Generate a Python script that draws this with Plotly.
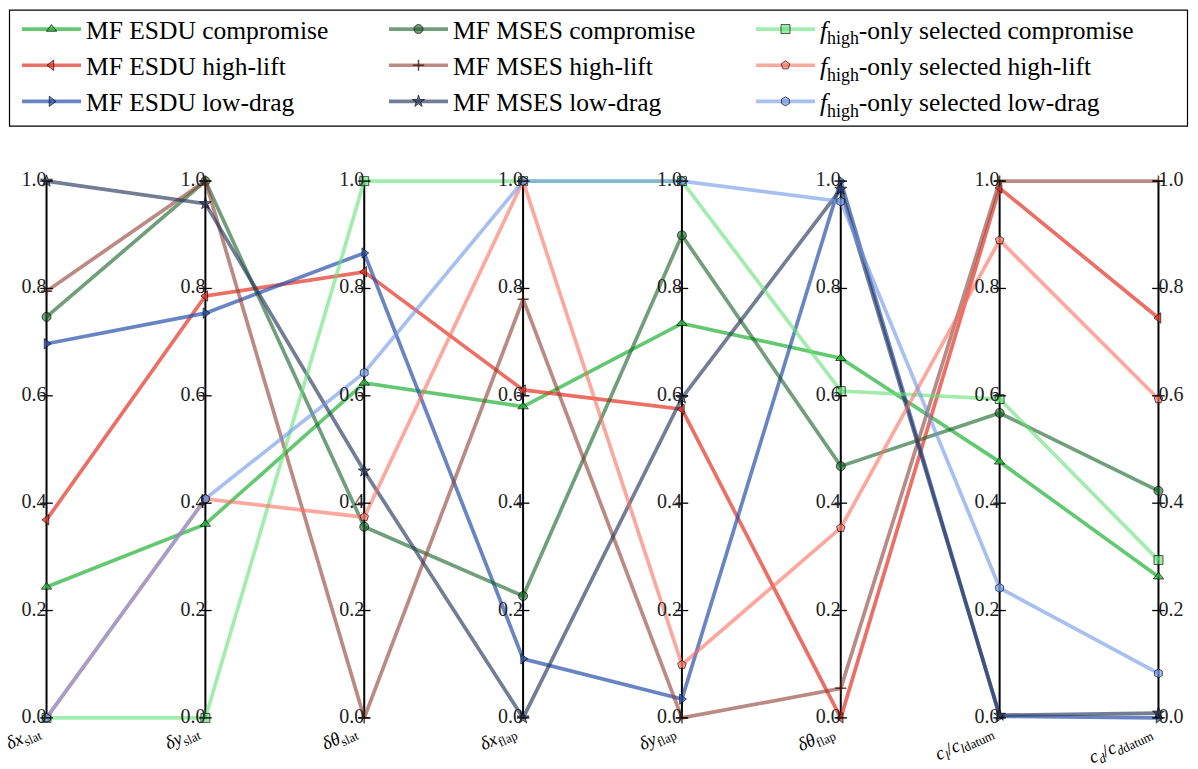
import plotly.graph_objects as go

# ---------------- data ----------------
axis_labels = [
    "<i>δx</i><sub>slat</sub>",
    "<i>δy</i><sub>slat</sub>",
    "<i>δθ</i><sub>slat</sub>",
    "<i>δx</i><sub>flap</sub>",
    "<i>δy</i><sub>flap</sub>",
    "<i>δθ</i><sub>flap</sub>",
    "<i>c<sub>l</sub></i>/<i>c<sub>l</sub></i><sub>datum</sub>",
    "<i>c<sub>d</sub></i>/<i>c<sub>d</sub></i><sub>datum</sub>",
]
tick_values = [0.0, 0.2, 0.4, 0.6, 0.8, 1.0]
tick_text = ["0.0", "0.2", "0.4", "0.6", "0.8", "1.0"]

esdu_compromise = [0.244, 0.361, 0.624, 0.580, 0.735, 0.670, 0.477, 0.263]
esdu_high_lift = [0.369, 0.786, 0.831, 0.611, 0.575, 0.0, 0.987, 0.745]
esdu_low_drag = [0.697, 0.754, 0.866, 0.110, 0.035, 1.0, 0.003, 0.0]
mses_compromise = [0.747, 1.0, 0.356, 0.227, 0.899, 0.469, 0.568, 0.423]
mses_high_lift = [0.795, 1.0, 0.0, 0.780, 0.0, 0.055, 1.0, 1.0]
mses_low_drag = [1.0, 0.958, 0.460, 0.0, 0.596, 0.985, 0.005, 0.009]
fhigh_compromise = [0.0, 0.0, 1.0, 1.0, 1.0, 0.609, 0.594, 0.294]
fhigh_high_lift = [0.0, 0.408, 0.374, 1.0, 0.099, 0.354, 0.890, 0.594]
fhigh_low_drag = [0.0, 0.408, 0.643, 1.0, 1.0, 0.962, 0.242, 0.083]

series = [
    # name, values, colour, symbol, legend, rank
    ("MF ESDU compromise", esdu_compromise, "rgba(34,177,56,0.7)", "triangle-up", "legend", 1),
    ("MF ESDU high-lift", esdu_high_lift, "rgba(228,50,35,0.7)", "triangle-left", "legend", 2),
    ("MF ESDU low-drag", esdu_low_drag, "rgba(40,80,170,0.7)", "triangle-right", "legend", 3),
    ("MF MSES compromise", mses_compromise, "rgba(20,95,35,0.6)", "circle", "legend2", 1),
    ("MF MSES high-lift", mses_high_lift, "rgba(140,60,50,0.6)", "cross-thin", "legend2", 2),
    ("MF MSES low-drag", mses_low_drag, "rgba(40,55,90,0.65)", "star", "legend2", 3),
    ("<i>f</i><sub>high</sub>-only selected compromise", fhigh_compromise, "rgba(100,225,120,0.6)", "square", "legend3", 1),
    ("<i>f</i><sub>high</sub>-only selected high-lift", fhigh_high_lift, "rgba(250,110,95,0.6)", "pentagon", "legend3", 2),
    ("<i>f</i><sub>high</sub>-only selected low-drag", fhigh_low_drag, "rgba(110,150,230,0.6)", "hexagon", "legend3", 3),
]

# ---------------- layout geometry ----------------
FIG_W, FIG_H = 1198, 769
AX0_PX, AXN_PX = 47, 1158
Y1_PX, Y0_PX = 181, 718
XPAD, YPAD = 0.06, 0.03
n_axes = len(axis_labels)
ux = (AXN_PX - AX0_PX) / (n_axes - 1)
uy = (Y0_PX - Y1_PX)
m_l = AX0_PX - XPAD * ux
m_r = FIG_W - (AXN_PX + XPAD * ux)
m_t = Y1_PX - YPAD * uy
m_b = FIG_H - (Y0_PX + YPAD * uy)
plot_w = FIG_W - m_l - m_r
plot_h = FIG_H - m_t - m_b

FONT = "Liberation Serif, Times New Roman, DejaVu Serif, serif"
xs = list(range(n_axes))

fig = go.Figure()

# vertical axis lines
ax_x, ax_y = [], []
for i in xs:
    ax_x += [i, i, None]
    ax_y += [tick_values[0], tick_values[-1], None]
fig.add_trace(go.Scatter(x=ax_x, y=ax_y, mode="lines", line=dict(color="black", width=2),
                         showlegend=False, hoverinfo="skip"))

for k, (name, vals, col, sym, leg, rank) in enumerate(series):
    msize = 9 if sym != "cross-thin" else 8
    fig.add_trace(go.Scatter(
        x=xs, y=vals, mode="lines+markers", name=name,
        line=dict(color=col, width=3.7),
        marker=dict(symbol=sym, size=msize, color=col,
                    line=dict(color=("rgba(60,20,15,0.8)" if sym == "cross-thin" else "rgba(0,0,0,0.8)"),
                              width=(1.5 if sym == "cross-thin" else 0.8))),
        legend=leg, legendrank=rank, legendgroup="g%d" % k, cliponaxis=False,
    ))

# ticks and tick labels
tk_x, tk_y, tk_t, tk_pos = [], [], [], []
for i in xs:
    for v, t in zip(tick_values, tick_text):
        tk_x.append(i)
        tk_y.append(v)
        tk_t.append(t)
        tk_pos.append("middle right" if i == n_axes - 1 else "middle left")
fig.add_trace(go.Scatter(x=tk_x, y=tk_y, mode="markers", marker=dict(symbol="line-ew", size=9,
                         line=dict(color="black", width=1.3)), showlegend=False, hoverinfo="skip",
                         cliponaxis=False))
fig.add_trace(go.Scatter(x=tk_x, y=tk_y, mode="text", text=tk_t, textposition=tk_pos,
                         textfont=dict(family=FONT, size=20, color="#222"),
                         showlegend=False, hoverinfo="skip", cliponaxis=False))

# axis labels
for i, lab in enumerate(axis_labels):
    fig.add_annotation(x=i, y=tick_values[0], xref="x", yref="y", text=lab, showarrow=False,
                       textangle=-25, xanchor="right", yanchor="top", yshift=0, xshift=0,
                       font=dict(family=FONT, size=18.5, color="black"))

# legend border
def px_to_paper_x(px):
    return (px - m_l) / plot_w

def px_to_paper_y(py):
    return (FIG_H - m_b - py) / plot_h

fig.add_shape(type="rect", xref="paper", yref="paper",
              x0=px_to_paper_x(10), x1=px_to_paper_x(1187),
              y0=px_to_paper_y(126), y1=px_to_paper_y(10),
              line=dict(color="black", width=1.2), fillcolor="rgba(0,0,0,0)")

leg_common = dict(xref="container", yref="container", yanchor="top", xanchor="left",
                  bgcolor="rgba(0,0,0,0)", borderwidth=0,
                  font=dict(family=FONT, size=25.5, color="black"), tracegroupgap=0,
                  itemwidth=59)

fig.update_layout(
    width=FIG_W, height=FIG_H,
    margin=dict(l=m_l, r=m_r, t=m_t, b=m_b, autoexpand=False),
    plot_bgcolor="white", paper_bgcolor="white",
    xaxis=dict(range=[-XPAD, n_axes - 1 + XPAD], visible=False, fixedrange=True),
    yaxis=dict(range=[-YPAD, 1 + YPAD], visible=False, fixedrange=True),
    legend=dict(x=17 / FIG_W, y=1 - 6 / FIG_H, **leg_common),
    legend2=dict(x=384 / FIG_W, y=1 - 6 / FIG_H, **leg_common),
    legend3=dict(x=751 / FIG_W, y=1 - 6 / FIG_H, **leg_common),
    font=dict(family=FONT),
)

fig.write_html("out.html", config={"displayModeBar": False},
               post_script="document.body.style.margin='0px';document.body.style.overflow='hidden';")
